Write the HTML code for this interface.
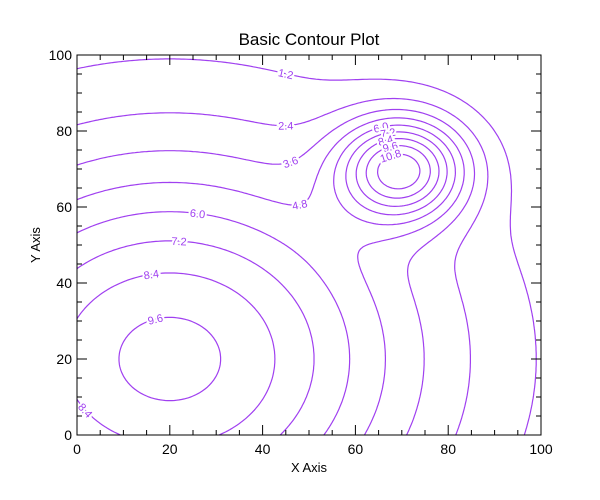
<!DOCTYPE html>
<html><head><meta charset="utf-8"><style>
body{margin:0;background:#fff}
svg{display:block;font-family:"Liberation Sans",sans-serif}
</style></head><body>
<svg id="c" width="600" height="500">
<rect width="600" height="500" fill="#fff"/>
<text x="309" y="45" font-size="17" text-anchor="middle">Basic Contour Plot</text>
<text x="309" y="472" font-size="13" text-anchor="middle">X Axis</text>
<text x="40" y="245" font-size="13" text-anchor="middle" transform="rotate(-90 40 245)">Y Axis</text>
<g id="contours"></g>
<g id="labels"></g>
<g id="axes"></g>
</svg>
<script>
const peakX=[20,70];
const peakY=[20,70];
const peakAmp=[10,10];
const peakK=[0.00034,0.0055];
const levels=[1.2,2.4,3.6,4.8,6.0,7.2,8.4,9.6,10.8];
const xTicks=[0,20,40,60,80,100];
const yTicks=[0,20,40,60,80,100];

const X0=77,X1=541,Y0=435,Y1=55;
const sx=v=>X0+(X1-X0)*v/100, sy=v=>Y0-(Y0-Y1)*v/100;
const NS='http://www.w3.org/2000/svg';
const mk=(t,a,p)=>{const e=document.createElementNS(NS,t);for(const k in a)e.setAttribute(k,a[k]);p.appendChild(e);return e;};
function field(x,y){let s=0;for(let i=0;i<peakX.length;i++){const dx=x-peakX[i],dy=y-peakY[i];s+=peakAmp[i]*Math.exp(-peakK[i]*(dx*dx+dy*dy));}return s;}
const step=0.5,N=Math.round(100/step)+1;
const G=[];for(let i=0;i<N;i++){G[i]=[];for(let j=0;j<N;j++)G[i][j]=field(i*step,j*step);}
const cg=document.getElementById('contours'),lg=document.getElementById('labels'),ax=document.getElementById('axes');
const col='#a040f0';
levels.forEach((L,li)=>{
  const pts={},adj={};
  function pt(key,x,y){if(!pts[key])pts[key]=[x,y];return key;}
  function edge(i,j,type){
    const key=type+i+','+j;
    let x,y;
    if(type==='h'){const t=(L-G[i][j])/(G[i+1][j]-G[i][j]);x=(i+t)*step;y=j*step;}
    else{const t=(L-G[i][j])/(G[i][j+1]-G[i][j]);x=i*step;y=(j+t)*step;}
    return pt(key,x,y);
  }
  function link(a,b){(adj[a]=adj[a]||[]).push(b);(adj[b]=adj[b]||[]).push(a);}
  for(let i=0;i<N-1;i++)for(let j=0;j<N-1;j++){
    const v0=G[i][j]>L,v1=G[i+1][j]>L,v2=G[i+1][j+1]>L,v3=G[i][j+1]>L;
    const e=[];
    if(v0!==v1)e.push(edge(i,j,'h'));
    if(v1!==v2)e.push(edge(i+1,j,'v'));
    if(v3!==v2)e.push(edge(i,j+1,'h'));
    if(v0!==v3)e.push(edge(i,j,'v'));
    if(e.length===2)link(e[0],e[1]);
    else if(e.length===4){link(e[0],e[1]);link(e[2],e[3]);}
  }
  const used={};
  const keys=Object.keys(adj);
  const starts=keys.filter(k=>adj[k].length===1).concat(keys);
  starts.forEach(s=>{
    if(used[s])return;
    const line=[s];used[s]=1;let cur=s;
    while(true){const n=(adj[cur]||[]).find(k=>!used[k]);if(!n){if(adj[cur].includes(s)&&line.length>2)line.push(s);break;}used[n]=1;line.push(n);cur=n;}
    const P=line.map(k=>[sx(pts[k][0]),sy(pts[k][1])]);
    const p=mk('polyline',{points:P.map(q=>q[0].toFixed(1)+','+q[1].toFixed(1)).join(' '),fill:'none',stroke:col,'stroke-width':1.2},cg);
    
    
    if(P.length>20){
      const idx=Math.floor(P.length*0.25);
      const a=P[Math.max(0,idx-3)],b=P[Math.min(P.length-1,idx+3)];
      let ang=Math.atan2(b[1]-a[1],b[0]-a[0])*180/Math.PI;
      if(ang>90)ang-=180;if(ang<-90)ang+=180;
      const t=mk('text',{x:P[idx][0],y:P[idx][1]+4,'font-size':11,fill:col,'text-anchor':'middle',stroke:'#fff','stroke-width':4,'paint-order':'stroke',transform:`rotate(${ang.toFixed(1)} ${P[idx][0].toFixed(1)} ${P[idx][1].toFixed(1)})`},lg);
      t.textContent=L.toFixed(1);
      
      
    }
  });
});
const fr=mk('rect',{x:X0,y:Y1,width:X1-X0,height:Y0-Y1,fill:'none',stroke:'#000','stroke-width':1},ax);


for(let v=0;v<=100;v+=5){
  const major=v%20===0,len=major?10:5;
  mk('line',{x1:sx(v),x2:sx(v),y1:Y0,y2:Y0-len,stroke:'#000'},ax);
  mk('line',{x1:sx(v),x2:sx(v),y1:Y1,y2:Y1+len,stroke:'#000'},ax);
  mk('line',{x1:X0,x2:X0+len,y1:sy(v),y2:sy(v),stroke:'#000'},ax);
  mk('line',{x1:X1,x2:X1-len,y1:sy(v),y2:sy(v),stroke:'#000'},ax);
}
xTicks.forEach(v=>{const t=mk('text',{x:sx(v),y:Y0+19,'font-size':14,'text-anchor':'middle'},ax);t.textContent=v;

});
yTicks.forEach(v=>{const t=mk('text',{x:X0-5,y:sy(v)+5,'font-size':14,'text-anchor':'end'},ax);t.textContent=v;

});
</script>
</body></html>
